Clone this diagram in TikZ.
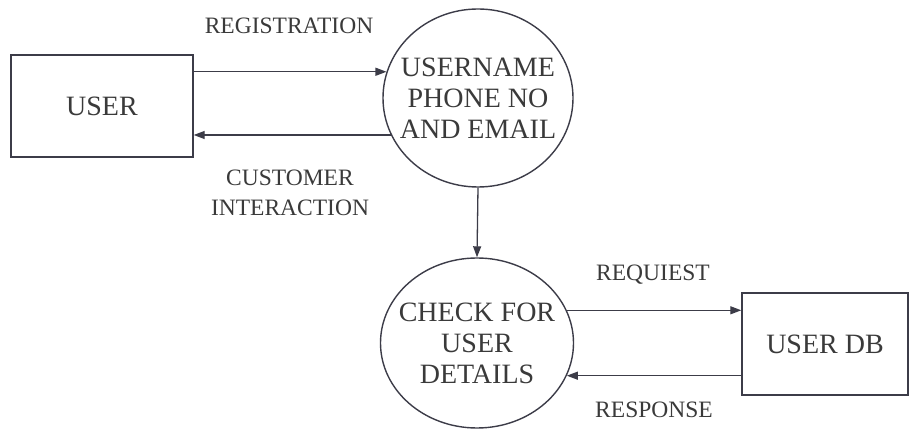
\documentclass[tikz,border=0pt]{standalone}
\usepackage{fontspec}
\setmainfont{Liberation Serif}
\usetikzlibrary{shapes.geometric}
\usetikzlibrary{arrows.meta}

\definecolor{inkline}{HTML}{3C3C48}
\definecolor{inktext}{HTML}{3A3A3A}

\tikzset{
  entity/.style={rectangle,draw=inkline,line width=1.4pt,text=inktext,
    font=\fontsize{28}{31}\selectfont},
  process/.style={ellipse,draw=inkline,line width=1.4pt,text=inktext,align=center,
    inner xsep=-20pt,inner ysep=0pt,font=\fontsize{28}{31}\selectfont},
  flowlabel/.style={text=inktext,align=center,font=\fontsize{23.5}{30}\selectfont},
  flow/.style={draw=inkline,line width=1.3pt,-{Triangle[length=11pt,width=8pt,inkline]}}
}

\begin{document}
\begin{tikzpicture}[x=1pt,y=1pt]
\useasboundingbox (0,0) rectangle (914,436);

% USER
\node[entity,minimum width=182pt,minimum height=102pt] at(102,330) (user) {USER};
% USERNAME
\node[process,minimum width=190pt,minimum height=178pt] at(478,338) (proc1) {USERNAME\\PHONE NO\\AND EMAIL};
% CHECK
\node[process,minimum width=193pt,minimum height=170pt] at(477,93) (proc2) {CHECK FOR\\USER\\DETAILS};
% USER DB
\node[entity,minimum width=166pt,minimum height=102pt] at(825,92) (userdb) {USER DB};

%User <-> process
\draw[flow] (user.east |- proc1.164) -- (proc1.164);
\draw[flow] (proc1.203) -- (proc1.203 -| user.east);

%process -> check
\draw[flow] (proc1.south) -- (proc2.north);

%check <-> db
\draw[flow] (proc2.20) -- (proc2.20 -| userdb.west);
\draw[flow] (proc2.340 -| userdb.west) -- (proc2.340);

%labels
\node[flowlabel] at(289,410) (lreg) {REGISTRATION};
\node[flowlabel] at(290,243) (lint) {CUSTOMER\\INTERACTION};
\node[flowlabel] at(653,161) (lreq) {REQUIEST};
\node[flowlabel] at(654,26) (lres) {RESPONSE};

\end{tikzpicture}
\end{document}
